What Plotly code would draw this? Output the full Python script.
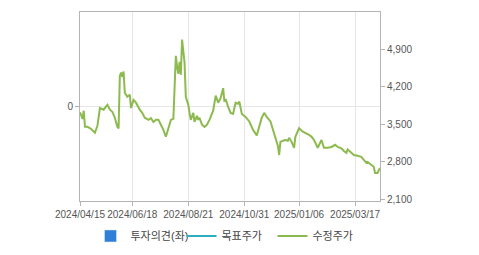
import plotly.graph_objects as go

# ---- data ----
dates = [
    "2024-04-15", "2024-04-17", "2024-04-18", "2024-04-19", "2024-04-23", "2024-04-26", "2024-05-02", "2024-05-07", "2024-05-09", "2024-05-14",
    "2024-05-20", "2024-05-22", "2024-05-24", "2024-05-28", "2024-05-30", "2024-05-31", "2024-06-03", "2024-06-04", "2024-06-05", "2024-06-07",
    "2024-06-10", "2024-06-12", "2024-06-14", "2024-06-17", "2024-06-19", "2024-06-21", "2024-06-26", "2024-06-28", "2024-07-02", "2024-07-05",
    "2024-07-09", "2024-07-11", "2024-07-15", "2024-07-17", "2024-07-19", "2024-07-23", "2024-07-25", "2024-07-29", "2024-07-31", "2024-08-02",
    "2024-08-05", "2024-08-06", "2024-08-07", "2024-08-08", "2024-08-09", "2024-08-12", "2024-08-13", "2024-08-14", "2024-08-16", "2024-08-19",
    "2024-08-21", "2024-08-22", "2024-08-23", "2024-08-27", "2024-08-28", "2024-08-30", "2024-09-02", "2024-09-03", "2024-09-05", "2024-09-09",
    "2024-09-11", "2024-09-13", "2024-09-23", "2024-09-25", "2024-09-27", "2024-10-02", "2024-10-07", "2024-10-08", "2024-10-10", "2024-10-14",
    "2024-10-16", "2024-10-18", "2024-10-22", "2024-10-24", "2024-10-25", "2024-10-29", "2024-11-01", "2024-11-06", "2024-11-11", "2024-11-14",
    "2024-11-18", "2024-11-20", "2024-11-22", "2024-11-26", "2024-11-29", "2024-12-03", "2024-12-05", "2024-12-09", "2024-12-10", "2024-12-11",
    "2024-12-13", "2024-12-17", "2024-12-19", "2024-12-20", "2024-12-24", "2024-12-27", "2024-12-30", "2025-01-03", "2025-01-06", "2025-01-09",
    "2025-01-13", "2025-01-16", "2025-01-20", "2025-01-22", "2025-01-31", "2025-02-04", "2025-02-05", "2025-02-07", "2025-02-12", "2025-02-17",
    "2025-02-20", "2025-02-24", "2025-02-27", "2025-03-04", "2025-03-06", "2025-03-07", "2025-03-12", "2025-03-14", "2025-03-19", "2025-03-24",
    "2025-03-26", "2025-03-28", "2025-03-31", "2025-04-03", "2025-04-07", "2025-04-08", "2025-04-10", "2025-04-14",
]
adj_price = [  # 수정주가
    3720, 3600, 3750, 3450, 3450, 3410, 3340, 3470, 3800, 3770,
    3860, 3770, 3730, 3620, 3450, 3420, 4400, 4460, 4380, 4480,
    4085, 4010, 4050, 3800, 3950, 3900, 3770, 3710, 3620, 3580,
    3610, 3540, 3580, 3580, 3490, 3395, 3265, 3430, 3580, 3600,
    4420, 4775, 4570, 4440, 4660, 4420, 5075, 4870, 4645, 4010,
    3860, 3710, 3580, 3710, 3545, 3655, 3580, 3620, 3490, 3450,
    3490, 3580, 3750, 4030, 3900, 3990, 4170, 3920, 3970, 3820,
    3710, 3690, 3900, 3880, 3920, 3690, 3635, 3550, 3395, 3290,
    3450, 3620, 3710, 3635, 3550, 3395, 3245, 3095, 2925, 3170,
    3190, 3205, 3190, 3245, 3170, 3060, 3265, 3355, 3425, 3360,
    3340, 3300, 3265, 3205, 3060, 3150, 3205, 3060, 3060, 3075,
    3115, 3075, 3050, 3000, 2965, 3030, 2965, 2925, 2910, 2890,
    2835, 2780, 2795, 2740, 2705, 2590, 2590, 2685,
]
opinion_dates = [None]   # 투자의견(좌) - no values shown
opinion_vals = [None]
target_dates = [None]    # 목표주가 - no values shown
target_vals = [None]

market_holidays = [
    "2024-05-01", "2024-05-06", "2024-05-15", "2024-06-06", "2024-08-15",
    "2024-09-16", "2024-09-17", "2024-09-18", "2024-10-01", "2024-10-03",
    "2024-10-09", "2024-12-25", "2024-12-31", "2025-01-01", "2025-01-27",
    "2025-01-28", "2025-01-29", "2025-01-30", "2025-03-03",
]
x_tick_vals = ["2024-04-15", "2024-06-18", "2024-08-21", "2024-10-31", "2025-01-06", "2025-03-17"]
x_tick_text = ["2024/04/15", "2024/06/18", "2024/08/21", "2024/10/31", "2025/01/06", "2025/03/17"]
right_tick_vals = [2100, 2800, 3500, 4200, 4900]
right_tick_text = ["2,100", "2,800", "3,500", "4,200", "4,900"]

FONT = "Arial, 'Liberation Sans', 'Noto Sans CJK KR', sans-serif"
AXIS = "#b4b4b4"
GRID = "#e6e6e6"

fig = go.Figure()
fig.add_trace(go.Bar(x=opinion_dates, y=opinion_vals, name="투자의견(좌)",
                     marker_color="#2f7ed8", yaxis="y", showlegend=True))
fig.add_trace(go.Scatter(x=target_dates, y=target_vals, name="목표주가", mode="lines",
                         line=dict(color="#2aaec0", width=2), yaxis="y2", showlegend=True))
fig.add_trace(go.Scatter(x=dates, y=adj_price, name="수정주가", mode="lines",
                         line=dict(color="#8cba4f", width=2), yaxis="y2"))

fig.update_layout(
    width=479, height=255,
    margin=dict(l=80, r=99, t=12, b=54, autoexpand=False),
    paper_bgcolor="white", plot_bgcolor="white",
    font=dict(family=FONT, size=10, color="#555555"),
    showlegend=True,
    legend=dict(orientation="h", x=0.035, xanchor="left", y=-0.185, yanchor="middle",
                font=dict(size=11, color="#444444"), itemwidth=30,
                entrywidth=46, entrywidthmode="pixels",
                bgcolor="rgba(0,0,0,0)",
                traceorder="normal"),
    xaxis=dict(
        type="date",
        range=["2024-04-15", "2025-04-14"],
        rangebreaks=[dict(bounds=["sat", "mon"]), dict(values=market_holidays)],
        tickmode="array", tickvals=x_tick_vals, ticktext=x_tick_text,
        tickangle=0,
        ticks="outside", ticklen=4, tickcolor=AXIS,
        showgrid=True, gridcolor=GRID, gridwidth=1,
        showline=True, linecolor=AXIS, linewidth=1, mirror=True,
        tickfont=dict(size=10, color="#555555"),
        zeroline=False,
    ),
    yaxis=dict(
        range=[-1, 1], tickmode="array", tickvals=[0], ticktext=["0"],
        ticks="outside", ticklen=4, tickcolor=AXIS,
        showgrid=True, gridcolor=GRID,
        showline=True, linecolor=AXIS, linewidth=1, mirror=True,
        zeroline=False, tickfont=dict(size=10, color="#555555"),
    ),
    yaxis2=dict(
        overlaying="y", side="right",
        range=[2068, 5590], tickmode="array",
        tickvals=right_tick_vals, ticktext=right_tick_text,
        ticks="outside", ticklen=4, tickcolor=AXIS,
        showgrid=False, showline=False, zeroline=False,
        tickfont=dict(size=10, color="#555555"),
    ),
)

fig.write_html("out.html")
